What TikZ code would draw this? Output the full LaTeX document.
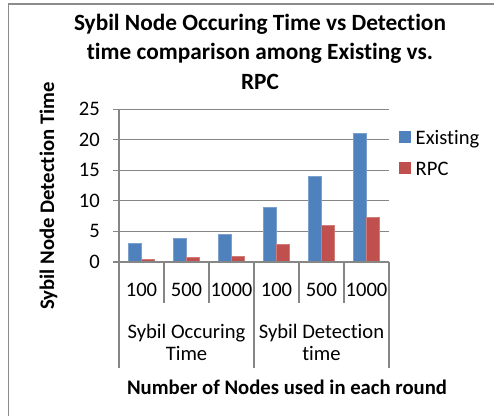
\documentclass[tikz,border=0pt]{standalone}
\usepackage{fontspec}
\setmainfont{Carlito}[Ligatures={NoCommon,NoContextual}]
\definecolor{exblue}{HTML}{4F81BD}
\definecolor{rpcred}{HTML}{C0504D}
\definecolor{gridgray}{HTML}{868686}
\definecolor{framegray}{HTML}{8C8C8C}
\tikzset{
  bodytext/.style={font=\fontsize{20.6}{24}\selectfont, inner sep=0pt, text=black},
  boldtext/.style={font=\fontsize{20.7}{24}\selectfont\bfseries, inner sep=0pt, text=black},
  titletext/.style={font=\fontsize{23.3}{29.5}\selectfont\bfseries, inner sep=0pt, text=black},
  gridline/.style={draw=gridgray, line width=1pt},
  axisline/.style={draw=gridgray, line width=1.2pt},
  bluebar/.style={fill=exblue, draw=exblue!75!white, line width=0.5pt},
  redbar/.style={fill=rpcred, draw=rpcred!75!white, line width=0.5pt},
}
\begin{document}
\begin{tikzpicture}[x=1pt,y=-1pt]
\path[use as bounding box, fill=white] (0,0) rectangle (494,416);
% chart frame (top and left edges visible)
\draw[framegray, line width=1.3pt] (8.5,416) -- (8.5,4) -- (494,4);
% title
\node[titletext, anchor=base] (t1) at (260,30) {Sybil Node Occuring Time vs Detection};
\node[titletext, anchor=base] (t2) at (260,59.5) {time comparison among Existing vs.};
\node[titletext, anchor=base] (t3) at (260,89) {RPC};
% gridlines and y tick labels
\foreach \v in {5,10,15,20,25} {
  \draw[gridline] (113,{262-6.12*\v}) -- (389,{262-6.12*\v});
}
\foreach \v in {0,5,10,15,20,25} {
  \node[bodytext, anchor=base east] (yl\v) at (100,{262-6.12*\v+6.5}) {\v};
}
% bars
\foreach \i/\b/\r in {1/3/0.5, 2/3.9/0.7, 3/4.5/0.9, 4/9/2.9, 5/14/6, 6/21/7.25} {
  \pgfmathsetmacro{\c}{119+45*(\i-0.5)}
  \fill[bluebar] ({\c-12.86},262) rectangle (\c,{262-6.12*\b});
  \fill[redbar] (\c,262) rectangle ({\c+12.86},{262-6.12*\r});
}
% axes
\draw[axisline] (113,262) -- (389,262);
\draw[axisline] (119,109) -- (119,368);
\foreach \x in {164,209,299,344} { \draw[axisline] (\x,262) -- (\x,303); }
\foreach \x in {254,389} { \draw[axisline] (\x,262) -- (\x,368); }
% category labels
\foreach \i/\t in {1/100, 2/500, 3/1000, 4/100, 5/500, 6/1000} {
  \node[bodytext, anchor=base] (cl\i) at ({119+45*(\i-0.5)},296) {\t};
}
\node[bodytext, anchor=base] (g1a) at (186.5,338) {Sybil Occuring};
\node[bodytext, anchor=base] (g1b) at (186.5,360) {Time};
\node[bodytext, anchor=base] (g2a) at (321.5,338) {Sybil Detection};
\node[bodytext, anchor=base] (g2b) at (321.5,360) {time};
% axis titles
\node[boldtext, anchor=base] (xt) at (287,394) {Number of Nodes used in each round};
\node[boldtext, anchor=base, rotate=90] (yt) at (54,196) {Sybil Node Detection Time};
% legend
\fill[exblue] (399,131) rectangle (411,143);
\node[bodytext, anchor=base west] (le) at (415.5,144) {Existing};
\fill[rpcred] (399,162) rectangle (411,174);
\node[bodytext, anchor=base west] (lr) at (415.5,175) {RPC};
\end{tikzpicture}
\end{document}
